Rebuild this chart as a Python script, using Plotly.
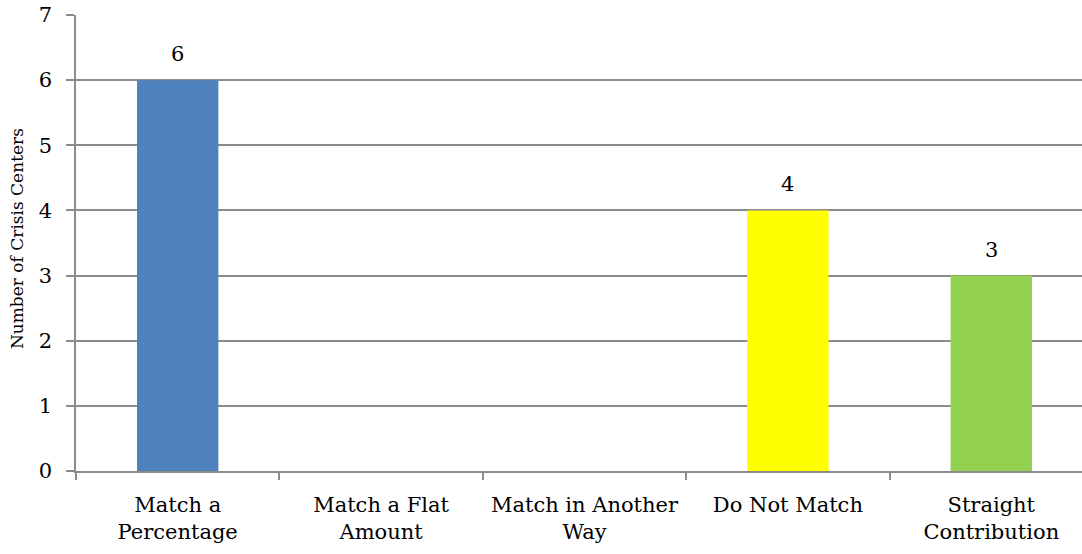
import plotly.graph_objects as go

categories = ["Match a<br>Percentage", "Match a Flat<br>Amount", "Match in Another<br>Way", "Do Not Match", "Straight<br>Contribution"]
values = [6, 0, 0, 4, 3]
colors = ["#4F81BD", "#4F81BD", "#4F81BD", "#FFFF00", "#92D050"]
y_ticks = [0, 1, 2, 3, 4, 5, 6, 7]

FONT = "DejaVu Serif"
GRID = "#8c8c8c"

fig = go.Figure()
fig.add_trace(go.Bar(x=categories, y=values, marker=dict(color=colors, line=dict(width=0)),
                     width=0.4, hoverinfo="skip"))

annotations = []
for c, v in zip(categories, values):
    if v > 0:
        annotations.append(dict(x=c, y=v, xref="x", yref="y", text=str(v), showarrow=False,
                                yanchor="bottom", yshift=12, font=dict(family=FONT, size=21, color="#000")))
annotations.append(dict(x=-0.058, y=0.51, xref="paper", yref="paper", text="Number of Crisis Centers",
                        textangle=-90, showarrow=False, xanchor="center", yanchor="middle",
                        font=dict(family=FONT, size=17, color="#000")))

fig.update_layout(
    width=1082, height=554,
    margin=dict(l=76, r=0, t=15, b=83),
    plot_bgcolor="white", paper_bgcolor="white",
    showlegend=False,
    annotations=annotations,
    font=dict(family=FONT, size=21, color="#000"),
    xaxis=dict(type="category", range=[-0.5, 4.446], ticks="outside", tickson="boundaries",
               ticklen=7, tickcolor=GRID, tickwidth=1.5, showline=True, linecolor=GRID, linewidth=1.5,
               showgrid=False, ticklabelstandoff=14, tickfont=dict(family=FONT, size=21, color="#000")),
    yaxis=dict(range=[0, 7], tickvals=y_ticks, ticks="outside", ticklen=8, tickcolor=GRID, tickwidth=1.5,
               showline=True, linecolor=GRID, linewidth=1.5, showgrid=True, gridcolor=GRID, gridwidth=1.5,
               zeroline=False, ticklabelstandoff=10, tickfont=dict(family=FONT, size=21, color="#000")),
)
fig.write_html("out.html")
